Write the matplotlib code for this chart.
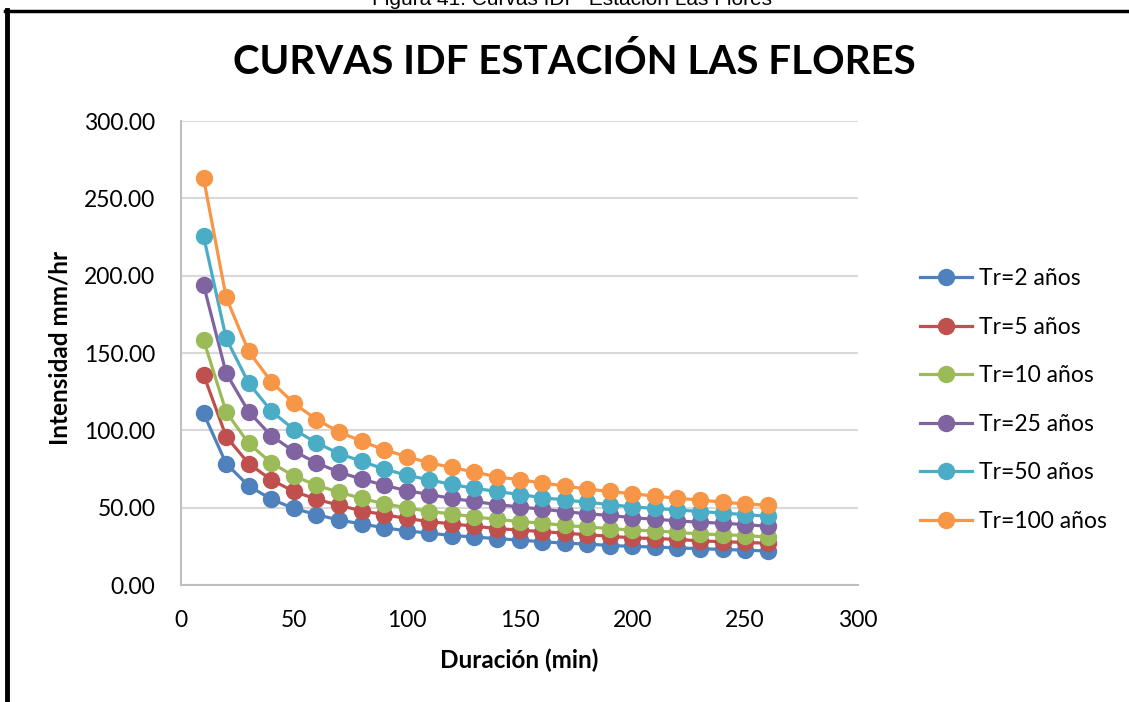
import matplotlib
matplotlib.use("Agg")
import matplotlib.pyplot as plt
from matplotlib.lines import Line2D

# ── Data ─────────────────────────────────────────────────────────────────────
duracion = [10, 20, 30, 40, 50, 60, 70, 80, 90, 100, 110, 120, 130,
            140, 150, 160, 170, 180, 190, 200, 210, 220, 230, 240, 250, 260]

tr2 = [111.0, 78.5, 64.0, 55.5, 49.5, 45.5, 42.0, 39.5, 37.0, 35.0, 33.5, 32.0, 31.0,
       30.0, 29.0, 28.0, 27.0, 26.5, 25.5, 25.0, 24.5, 24.0, 23.5, 23.0, 22.5, 22.0]
tr5 = [136.0, 96.0, 78.5, 68.0, 60.5, 55.5, 51.5, 48.0, 45.5, 43.0, 41.0, 39.5, 38.0,
       36.5, 35.5, 34.5, 33.5, 32.5, 31.5, 30.5, 30.0, 29.5, 28.5, 28.0, 27.5, 27.0]
tr10 = [158.5, 112.0, 91.5, 79.0, 70.5, 64.5, 60.0, 56.0, 52.5, 50.0, 47.5, 46.0, 44.0,
        42.5, 41.0, 40.0, 38.5, 37.5, 36.5, 35.5, 35.0, 34.0, 33.0, 32.5, 32.0, 31.0]
tr25 = [194.0, 137.0, 112.0, 96.5, 86.5, 79.0, 73.0, 68.5, 64.5, 61.0, 58.5, 56.0, 54.0,
        52.0, 50.5, 49.0, 47.5, 46.0, 45.0, 43.5, 42.5, 41.5, 40.5, 40.0, 39.0, 38.0]
tr50 = [225.5, 159.5, 130.5, 112.5, 100.5, 92.0, 85.0, 80.0, 75.0, 71.0, 68.0, 65.0, 62.5,
        60.5, 58.5, 56.5, 55.0, 53.5, 52.0, 50.5, 49.5, 48.5, 47.5, 46.5, 45.5, 44.5]
tr100 = [263.0, 186.0, 151.0, 131.5, 117.5, 107.0, 99.0, 93.0, 87.5, 83.0, 79.0, 76.0, 73.0,
         70.0, 68.0, 66.0, 64.0, 62.0, 60.5, 59.0, 57.5, 56.0, 55.0, 53.5, 52.5, 51.5]

series = [tr2, tr5, tr10, tr25, tr50, tr100]
labels = ["Tr=2 años", "Tr=5 años", "Tr=10 años", "Tr=25 años", "Tr=50 años", "Tr=100 años"]
colors = ["#4F81BD", "#C0504D", "#9BBB59", "#8064A2", "#4BACC6", "#F79646"]

x_ticks = [0, 50, 100, 150, 200, 250, 300]
y_ticks = [0, 50, 100, 150, 200, 250, 300]

# ── Plot ─────────────────────────────────────────────────────────────────────
W, H = 1129, 702
fig = plt.figure(figsize=(W / 100, H / 100), dpi=100)
fig.patch.set_facecolor("white")

ax = fig.add_axes([181 / W, 1 - 585 / H, (858 - 181) / W, (585 - 121) / H])

for vals, lab, col in zip(series, labels, colors):
    ax.plot(duracion, vals, "-o", color=col, linewidth=2.3, markersize=11.5,
            label=lab, solid_capstyle="round", zorder=3)

ax.set_xlim(0, 300)
ax.set_ylim(0, 300)
ax.set_xticks(x_ticks)
ax.set_yticks(y_ticks)
ax.set_yticklabels([f"{v:.2f}" for v in y_ticks])
ax.tick_params(length=0, labelsize=16.5)
ax.tick_params(axis="y", pad=18.5)
ax.tick_params(axis="x", pad=18)
for lbl in ax.get_xticklabels() + ax.get_yticklabels():
    lbl.set_fontfamily("Lato")

ax.grid(axis="y", color="#D9D9D9", linewidth=1.5, zorder=0)
ax.set_axisbelow(True)
for side in ["top", "right"]:
    ax.spines[side].set_visible(False)
for side in ["left", "bottom"]:
    ax.spines[side].set_color("#BFBFBF")
    ax.spines[side].set_linewidth(1.5)

ax.set_xlabel("Duración (min)", fontsize=17.5, fontweight="bold", fontfamily="Lato", va="center")
ax.set_ylabel("Intensidad mm/hr", fontsize=17.5, fontweight="bold", fontfamily="Lato", va="center")
ax.xaxis.set_label_coords(0.5, -(660 - 585) / 464)
ax.yaxis.set_label_coords((60 - 181) / 677, 0.51)

fig.text(574 / W, 1 - 62 / H, "CURVAS IDF ESTACIÓN LAS FLORES", ha="center", va="center",
         fontsize=29, fontweight="bold", fontfamily="Lato")

handles = [Line2D([0], [0], color=c, marker="o", linewidth=2.3, markersize=11.5) for c in colors]
fig.legend(handles, labels, loc="center left", bbox_to_anchor=(899 / W, 1 - 400 / H),
           frameon=False, prop={"family": "Lato", "size": 16.5}, labelspacing=1.2,
           handlelength=2.3, handletextpad=0.3)

# frame of the document page and the cut caption above it
fig.add_artist(Line2D([7 / W, 7 / W], [0, 1 - 10 / H], color="black", linewidth=3.5))
fig.add_artist(Line2D([5 / W, 1], [1 - 10.5 / H, 1 - 10.5 / H], color="black", linewidth=2.5))
fig.text(572 / W, 1 - 5 / H, "Figura 41: Curvas IDF  Estación Las Flores", ha="center",
         va="baseline", fontsize=15, fontfamily="Liberation Sans")

fig.savefig("out.png", dpi=100, facecolor="white")
